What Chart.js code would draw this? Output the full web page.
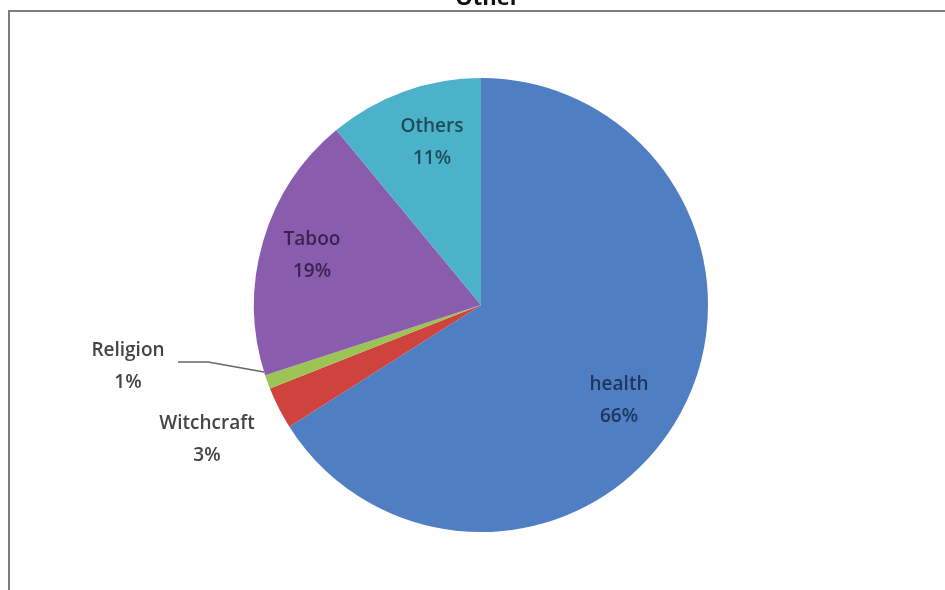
<!DOCTYPE html>
<html>
<head>
<meta charset="utf-8">
<script src="https://cdn.jsdelivr.net/npm/chart.js@4"></script>
<style>
  html, body { margin: 0; padding: 0; background: #fff; overflow: hidden; }
  #wrap { position: relative; width: 945px; height: 590px; overflow: hidden; }
  #ttl { position: absolute; left: 0; width: 975px; top: -19px; text-align: center;
         font: bold 22px "Open Sans", "Liberation Sans", sans-serif; color: #111; z-index: 2; }
  canvas { position: absolute; left: 0; top: 0; }
</style>
</head>
<body>
<div id="wrap">
  <canvas id="c" width="945" height="590"></canvas>
  <div id="ttl">Other</div>
</div>
<script>
const categories = ["health", "Witchcraft", "Religion", "Taboo", "Others"];
const values = [66, 3, 1, 19, 11];
const percentLabels = ["66%", "3%", "1%", "19%", "11%"];
const colors = ["#4F7FC2", "#CE433E", "#9CC455", "#8A5CAD", "#4CB2CA"];
const labelColors = ["#1E3560", "#444444", "#444444", "#3A2350", "#1D4B57"];

// label placement: pixel offsets from the pie centre
const labelPlace = [
  { dx: 138, dy: 96 },
  { dx: -274, dy: 135 },
  { dx: -353, dy: 62, leader: { x1: 50, y1: -5, ex: -217, ey: 67 } },
  { dx: -169, dy: -49 },
  { dx: -49, dy: -162 }
];

const framePlugin = {
  id: 'frame',
  beforeDraw(chart) {
    const ctx = chart.ctx;
    ctx.save();
    ctx.strokeStyle = '#7c7c7c';
    ctx.lineWidth = 2;
    ctx.beginPath();
    ctx.moveTo(9, 600);
    ctx.lineTo(9, 11);
    ctx.lineTo(960, 11);
    ctx.stroke();
    ctx.restore();
  }
};

const labelPlugin = {
  id: 'sliceLabels',
  afterDatasetsDraw(chart) {
    const ctx = chart.ctx;
    const meta = chart.getDatasetMeta(0);
    ctx.save();
    ctx.font = '600 19px "Open Sans", "Liberation Sans", sans-serif';
    ctx.textAlign = 'center';
    ctx.textBaseline = 'middle';
    meta.data.forEach((arc, i) => {
      const p = arc.getProps(['x', 'y'], true);
      const pl = labelPlace[i];
      const lx = p.x + pl.dx;
      const ly = p.y + pl.dy;
      if (pl.leader) {
        const L = pl.leader;
        ctx.strokeStyle = '#666';
        ctx.lineWidth = 1.5;
        ctx.beginPath();
        ctx.moveTo(lx + L.x1, ly + L.y1);
        ctx.lineTo(lx + L.x1 + 30, ly + L.y1);
        ctx.lineTo(p.x + L.ex, p.y + L.ey);
        ctx.stroke();
      }
      ctx.fillStyle = labelColors[i];
      ctx.fillText(categories[i], lx, ly - 16);
      ctx.fillText(percentLabels[i], lx, ly + 16);
    });
    ctx.restore();
  }
};

new Chart(document.getElementById('c'), {
  type: 'pie',
  data: {
    labels: categories,
    datasets: [{
      data: values,
      backgroundColor: colors,
      borderWidth: 0
    }]
  },
  options: {
    responsive: false,
    animation: false,
    layout: { padding: { top: 78, bottom: 58, left: 17, right: 0 } },
    plugins: {
      legend: { display: false },
      tooltip: { enabled: false },
      title: { display: false }
    }
  },
  plugins: [framePlugin, labelPlugin]
});
</script>
</body>
</html>
